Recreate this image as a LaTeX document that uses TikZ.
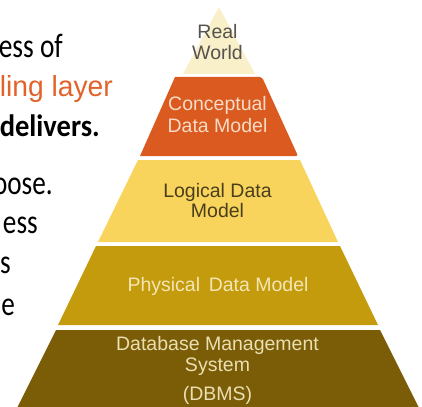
\documentclass[tikz,border=0pt]{standalone}
\usepackage{graphicx}
\usepackage{fontspec}
\setmainfont{Liberation Sans}
\newfontfamily\leftfont{Carlito}
\newfontfamily\orfont{Liberation Sans}
\definecolor{rwfill}{HTML}{F9EFC9}
\definecolor{cfill}{HTML}{DB5A1F}
\definecolor{lfill}{HTML}{F8D45C}
\definecolor{pfill}{HTML}{C49B0C}
\definecolor{dfill}{HTML}{7B5D07}
\definecolor{rwtext}{HTML}{55534E}
\definecolor{ctext}{HTML}{F6DCC6}
\definecolor{ltext}{HTML}{4A3E1C}
\definecolor{ptext}{HTML}{F3E6B5}
\definecolor{dtext}{HTML}{EADFB2}
\definecolor{otext}{HTML}{E2622A}
\tikzset{
  lefttext/.style={anchor=base east, inner sep=0pt, font=\leftfont\fontsize{34}{34}\selectfont},
  pyrtext/.style={anchor=base, inner sep=0pt, font=\fontsize{19.5}{21}\selectfont},
}
\begin{document}
\begin{tikzpicture}[x=1pt,y=-1pt]
\useasboundingbox (0,0) rectangle (422,406);
\clip (0,0) rectangle (422,406);
% left text
\node[lefttext] (t1) at (63,58) {\resizebox{64pt}{\height}{ess of}};
\node[lefttext, text=otext, font=\orfont\fontsize{29}{29}\selectfont] (t2) at (113,97) {\resizebox{113pt}{\height}{ling layer}};
\node[lefttext, font=\leftfont\bfseries\fontsize{31}{31}\selectfont] (t3) at (100,137) {\resizebox{100pt}{\height}{delivers.}};
\node[lefttext] (t4) at (53,194) {\scalebox{0.8}[1]{oose.}};
\node[lefttext] (t5) at (38,233) {\scalebox{0.8}[1]{ess}};
\node[lefttext] (t6) at (11,273) {\scalebox{0.8}[1]{s}};
\node[lefttext] (t7) at (15,315) {\scalebox{0.8}[1]{e}};
% pyramid
\fill[rwfill] (219,7) -- (255,74) -- (183,74) -- cycle;
\fill[cfill, rounded corners=2pt] (175,77) -- (262,77) -- (298,156) [sharp corners] -- (140,156) -- cycle;
\fill[lfill] (138,160) -- (300,160) -- (338,242) -- (98,242) -- cycle;
\fill[pfill] (96,246) -- (340,246) -- (378,325) -- (58,325) -- cycle;
\fill[dfill] (56,330) -- (380,330) -- (422,414) -- (14,414) -- cycle;
% pyramid labels
\node[pyrtext, text=rwtext] (rw1) at (217.5,39) {Real};
\node[pyrtext, text=rwtext] (rw2) at (217.5,60) {World};
\node[pyrtext, text=ctext] (c1) at (217.5,111) {Conceptual};
\node[pyrtext, text=ctext] (c2) at (217.5,133) {Data Model};
\node[pyrtext, text=ltext] (l1) at (217.5,197) {Logical Data};
\node[pyrtext, text=ltext] (l2) at (217.5,217) {Model};
\node[pyrtext, text=ptext] (p1) at (218,291) {Physical\, Data Model};
\node[pyrtext, text=dtext] (d1) at (217.5,350) {Database Management};
\node[pyrtext, text=dtext] (d2) at (217.5,371) {System};
\node[pyrtext, text=dtext] (d3) at (217.5,400) {(DBMS)};
\end{tikzpicture}
\end{document}
